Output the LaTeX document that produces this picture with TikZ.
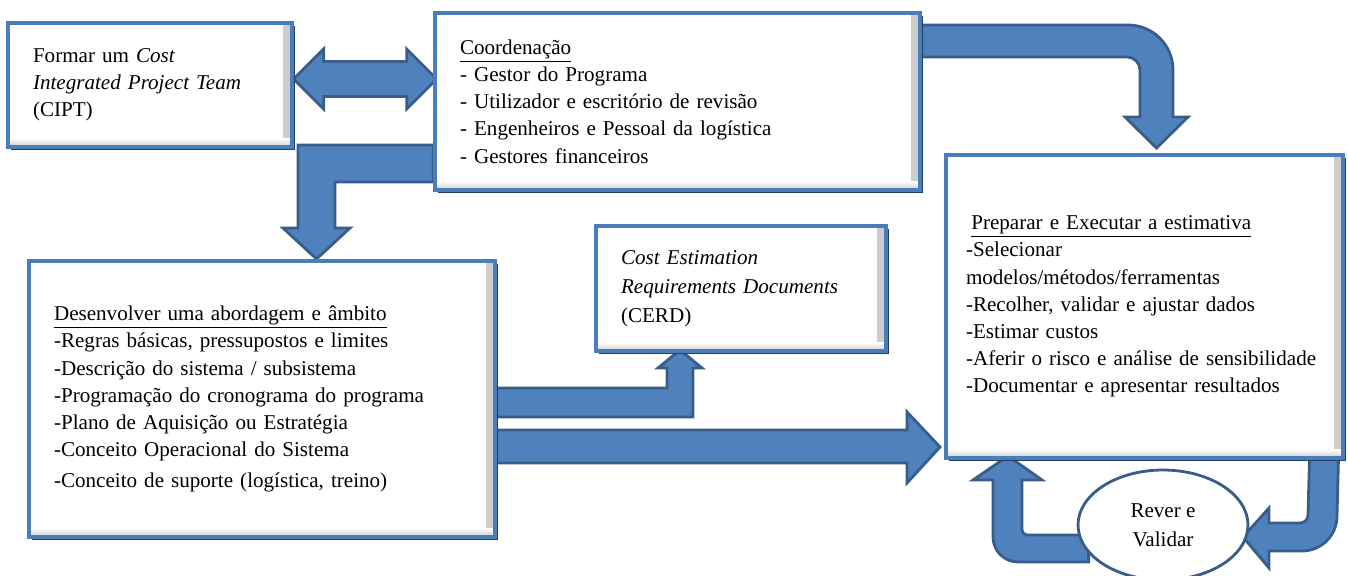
\documentclass[tikz,border=0pt]{standalone}
\usepackage{fontspec}
\setmainfont{Liberation Serif}
\usetikzlibrary{calc,shadows,shapes.geometric}
\definecolor{boxblue}{HTML}{4A7EBB}
\definecolor{boxdark}{HTML}{243F60}
\definecolor{arrowfill}{HTML}{4F81BD}
\definecolor{arrowedge}{HTML}{385D8A}
\pgfdeclarelayer{bg}
\pgfsetlayers{bg,main}
\pgfdeclareradialshading{rim}{\pgfpointorigin}{color(0bp)=(white); color(30bp)=(white); color(50bp)=(black!30)}
\tikzset{
  box/.style={rectangle, draw=boxblue, line width=2pt, fill=white, align=left,
    inner xsep=0.5cm, inner ysep=2pt, font=\fontsize{12}{15.5}\selectfont,
    drop shadow={shadow xshift=1.6pt, shadow yshift=-1.6pt, fill=boxdark, opacity=1},
    path picture={
      \shade[left color=white, right color=black!20] ([xshift=-5pt]path picture bounding box.north east) rectangle (path picture bounding box.south east);
      \shade[top color=white, bottom color=black!20] ([yshift=5pt]path picture bounding box.south west) rectangle (path picture bounding box.south east);
    }},
  blockarrow/.style={fill=arrowfill, draw=arrowedge, line width=1.6pt, line join=miter},
}
\begin{document}
\begin{tikzpicture}[x=0.02cm, y=-0.02cm]
    \useasboundingbox (0,0) rectangle (1348,575);

    \node[box, text width=4.68cm, minimum height=2.48cm] (cipt) at (150,85)
        {Formar um \textit{Cost}\\\textit{Integrated Project Team}\\(CIPT)};
    \node[box, text width=8.7cm, minimum height=3.54cm] (coord) at (677.5,101.5)
        {\underline{Coordenação}\\- Gestor do Programa\\- Utilizador e escritório de revisão\\- Engenheiros e Pessoal da logística\\- Gestores financeiros};
    \node[box, text width=7.14cm, inner xsep=0.4cm, minimum height=6.06cm] (prep) at (1144.5,306.5)
        {\hspace{3pt}\underline{Preparar e Executar a estimativa}\\-Selecionar\\modelos/métodos/ferramentas\\-Recolher, validar e ajustar dados\\-Estimar custos\\-Aferir o risco e análise de sensibilidade\\-Documentar e apresentar resultados};
    \node[box, text width=8.32cm, minimum height=5.52cm] (abord) at (262,399)
        {\underline{Desenvolver uma abordagem e âmbito}\\-Regras básicas, pressupostos e limites\\-Descrição do sistema / subsistema\\-Programação do cronograma do programa\\-Plano de Aquisição ou Estratégia\\-Conceito Operacional do Sistema\\[2pt]-Conceito de suporte (logística, treino)};
    \node[box, text width=4.8cm, minimum height=2.5cm, font=\fontsize{12}{16.5}\selectfont] (cerd) at (741,288.5)
        {\textit{Cost Estimation}\\\textit{Requirements Documents}\\(CERD)};
    \node[ellipse, draw=arrowedge, line width=1.6pt, shading=rim, align=center,
        minimum width=3.4cm, minimum height=2.2cm, inner sep=0pt,
        font=\fontsize{12}{16.5}\selectfont] (rever) at (1163,525) {Rever e\\Validar};

    \begin{pgfonlayer}{bg}
    % CIPT <-> Coordenacao
    \draw[blockarrow] ($(cipt.east)+(0,-6)$) -- ++(30,-30) -- ++(0,12.5) -- ++(83,0) -- ++(0,-12.5)
        -- ++(30,30) -- ++(-30,30) -- ++(0,-12.5) -- ++(-83,0) -- ++(0,12.5) -- cycle;
    % Coordenacao -> abordagem
    \draw[blockarrow] ($(coord.west)+(0,43.5)$) -- (298,145) -- (298,228) -- (283,228) -- (316.5,259)
        -- (350,228) -- (335,228) -- (335,182) -- ($(coord.west)+(0,80.5)$) -- cycle;
    % Coordenacao -> estimativa
    \draw[blockarrow] ($(coord.east)+(0,-76.5)$) -- (1128,25) arc[start angle=90, end angle=0, radius=0.9cm]
        -- (1173,117) -- (1188,117) -- (1156.5,148) -- (1125,117) -- (1140,117) -- (1140,70)
        arc[start angle=0, end angle=90, radius=0.26cm] -- ($(coord.east)+(0,-44.5)$) -- cycle;
    % abordagem -> CERD
    \draw[blockarrow] ($(abord.east)+(0,18)$) -- (693,417) -- (693,368) -- (702,368) -- (680,350)
        -- (658,368) -- (667,368) -- (667,388) -- ($(abord.east)+(0,-11)$) -- cycle;
    % abordagem -> estimativa
    \draw[blockarrow] ($(abord.east)+(0,31)$) -- (907,430) -- (907,412) -- (940,447) -- (907,483)
        -- (907,463) -- ($(abord.east)+(0,64)$) -- cycle;
    % estimativa -> rever
    \draw[blockarrow] ($(prep.south east)+(-35,-11)$) -- ++(29,0) -- (1337,516)
        arc[start angle=0, end angle=-90, radius=0.7cm] -- (1269,551) -- (1269,568) -- (1243,537)
        -- (1269,508) -- (1269,523) -- (1300,523) arc[start angle=-90, end angle=0, radius=0.16cm] -- cycle;
    % rever -> estimativa
    \draw[blockarrow] ($(rever.west)+(12,10)$) -- (1027,535) arc[start angle=270, end angle=180, radius=0.1cm]
        -- (1022,480) -- (1042,480) -- (1008,456) -- (973,480) -- (993,480) -- (993,537)
        arc[start angle=180, end angle=270, radius=0.5cm] -- ($(rever.west)+(12,37)$) -- cycle;
    \end{pgfonlayer}
\end{tikzpicture}
\end{document}
